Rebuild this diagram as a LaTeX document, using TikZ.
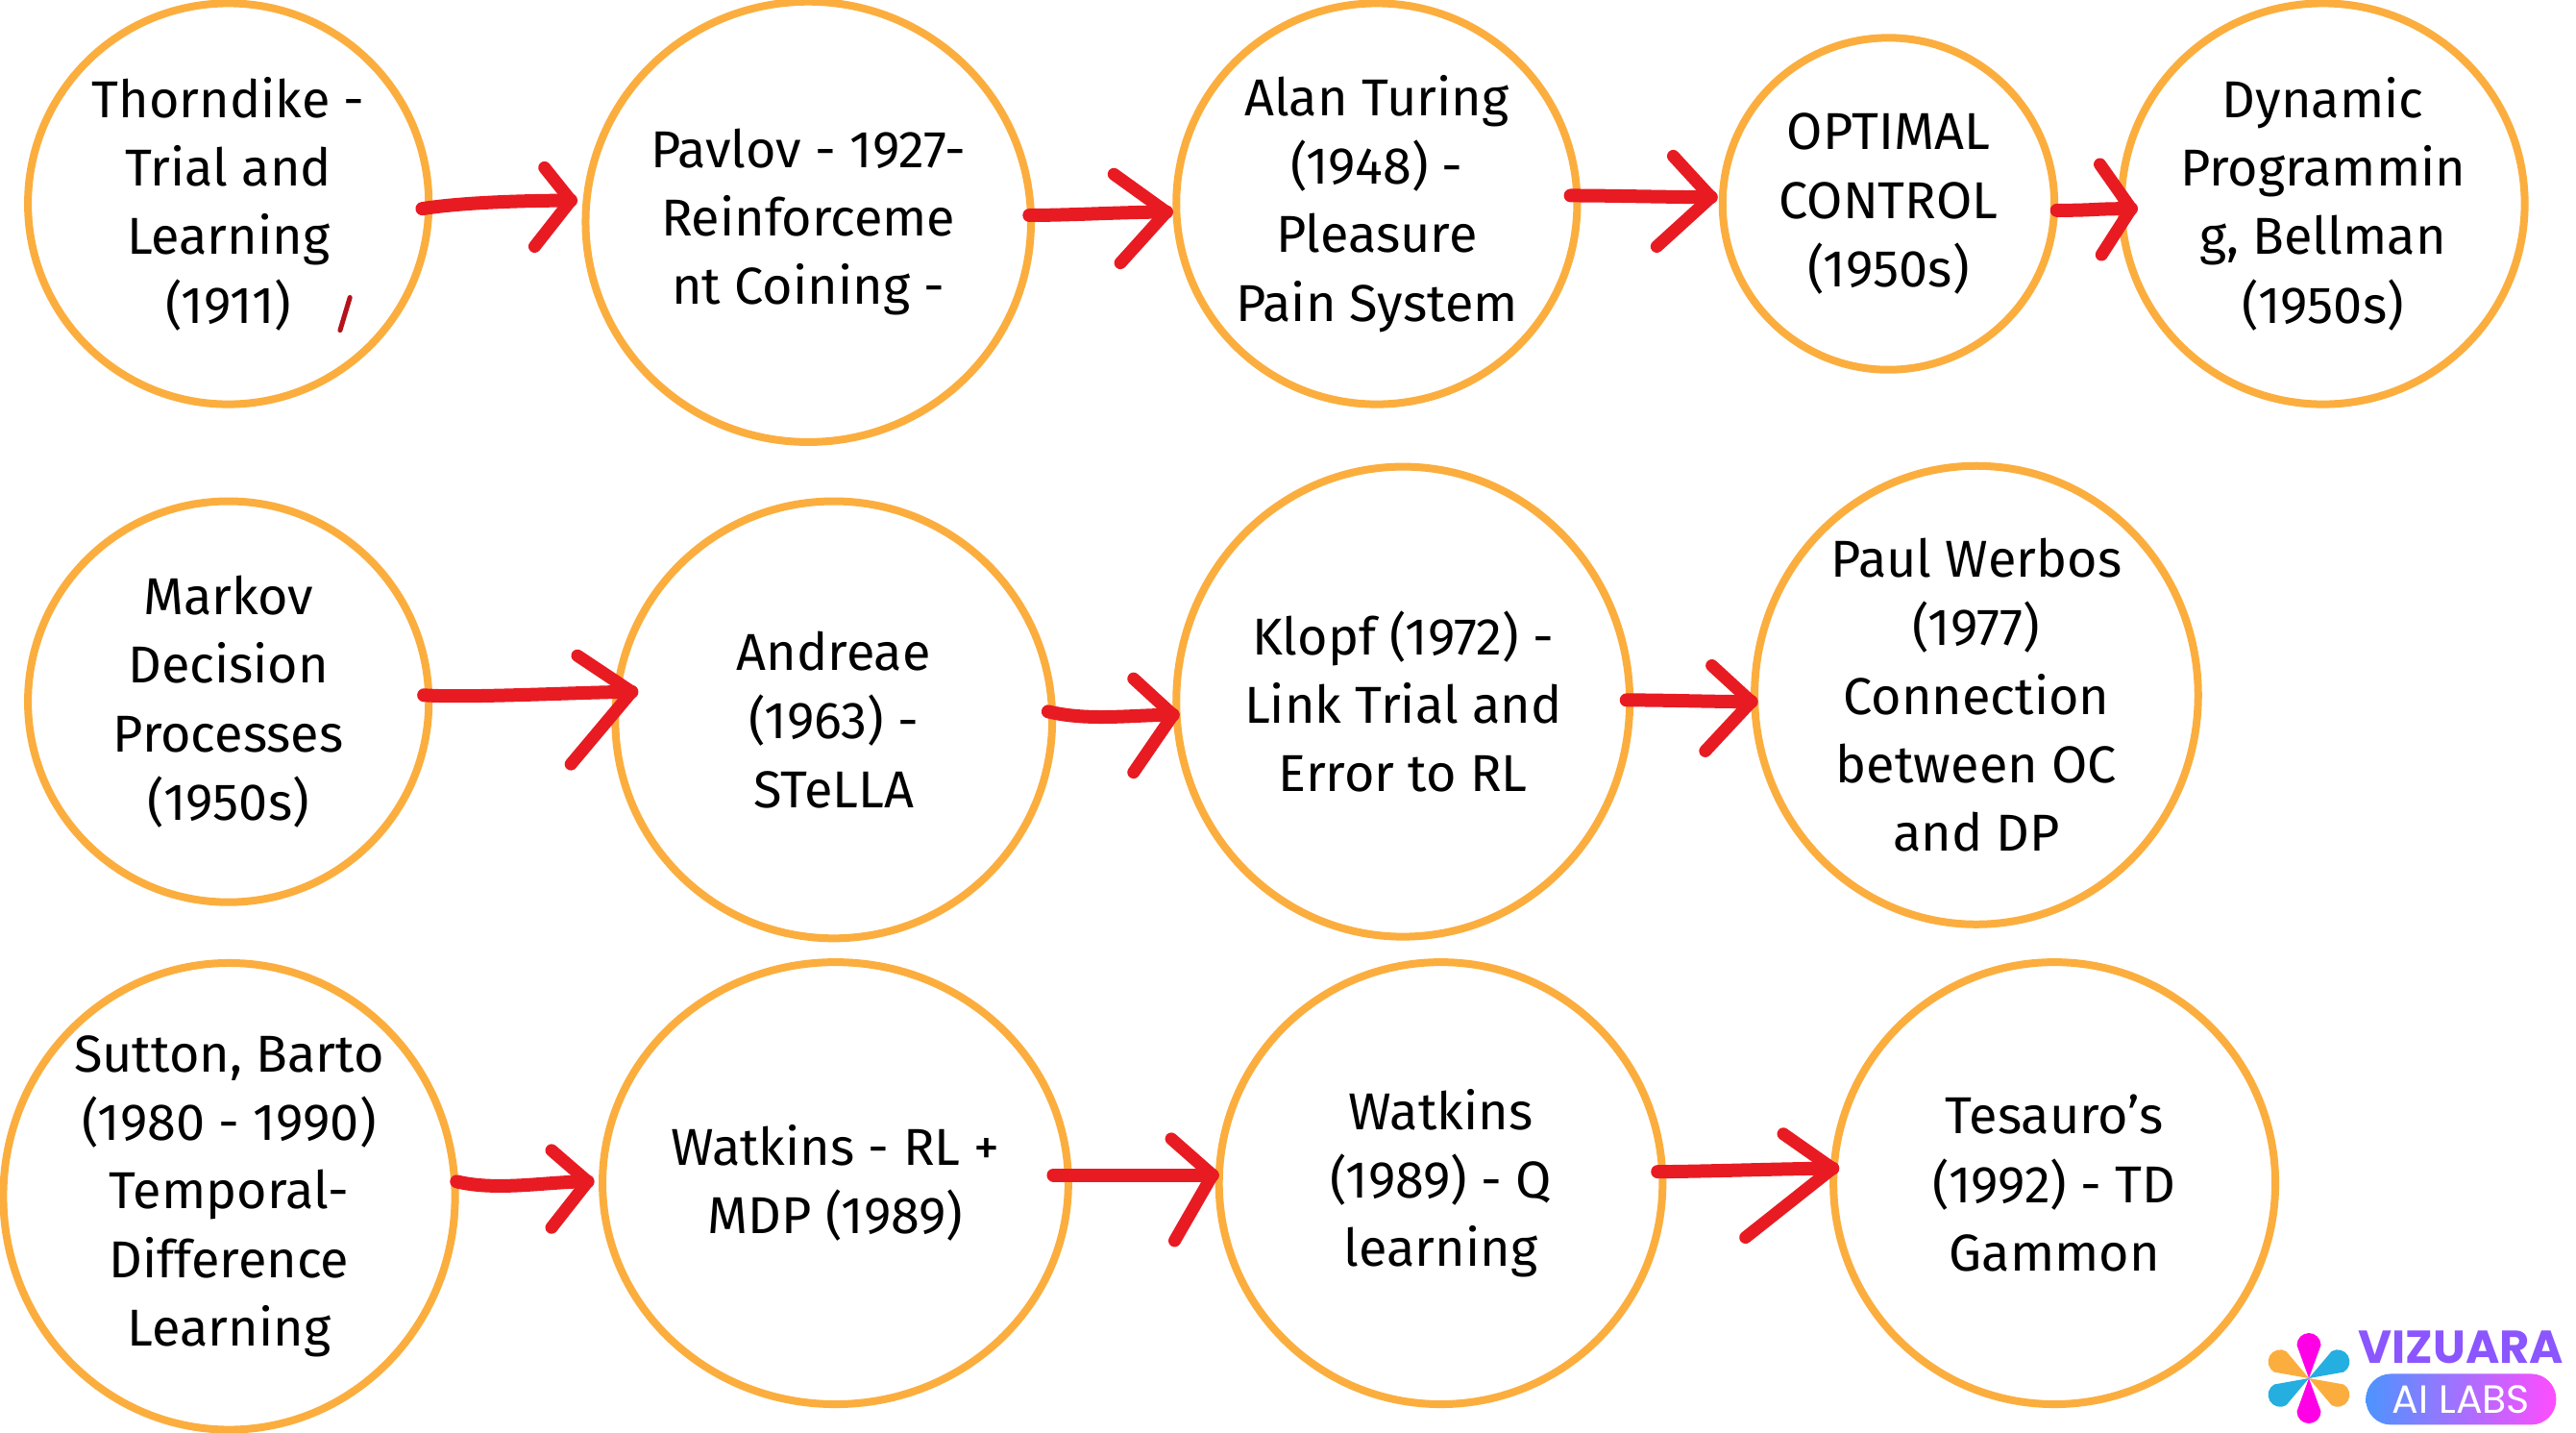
\documentclass[tikz,border=0pt]{standalone}
\usepackage{fontspec}
\setmainfont{Fira Sans}
\newfontfamily\logofont{Poppins}
\usetikzlibrary{shapes.geometric,calc}
\definecolor{ringc}{HTML}{FBAE3E}
\definecolor{redc}{HTML}{E81B23}
\definecolor{slashc}{HTML}{B5121B}
\definecolor{purp}{HTML}{8B55FF}
\definecolor{petalm}{HTML}{FF00E6}
\definecolor{petalo}{HTML}{FBAE3E}
\definecolor{petalb}{HTML}{25AEE0}
\tikzset{
  ring/.style n args={2}{shape=ellipse,draw=ringc,line width=8pt,inner sep=0pt,outer sep=0pt,
    minimum width=#1*3.4196pt,minimum height=#2*3.4196pt,align=center,text=black,
    font=\fontsize{54}{71.3}\selectfont},
  stroke/.style={draw=redc,line width=14pt,line cap=round,line join=round},
  headst/.style={draw=redc,line width=13pt,line cap=round,line join=round},
}
\newcommand{\arrowconn}[7]{%
  \coordinate (s#1) at ($(#1.east)+(#3)$);
  \coordinate (t#1) at ($(#2.west)+(#4)$);
  \draw[stroke] (s#1) .. controls +(25,#7) and +(-25,0) .. (t#1);
  \draw[headst] ($(t#1)+(#5)$) -- (t#1) -- ($(t#1)+(#6)$);
}
\newcommand{\petal}[2]{%
  \fill[#1,rotate=#2] (0pt,0pt) -- (34.5pt,12.5pt) arc[start angle=90,end angle=-90,radius=12.5pt] -- cycle;
}
\begin{document}
\begin{tikzpicture}[x=1.7098pt,y=-1.7098pt]
\useasboundingbox (0,0) rectangle (1568,872);
\fill[white] (0,0) rectangle (1568,872);
\node[ring={122}{122}] (n1) at (139,124) {Thorndike -\\Trial and\\Learning\\(1911)};
\node[ring={134}{134}] (n2) at (492,135) {Pavlov - 1927-\\Reinforceme\\nt Coining -};
\node[ring={122}{122}] (n3) at (838,124) {Alan Turing\\(1948) -\\Pleasure\\Pain System};
\node[ring={101}{101}] (n4) at (1149.5,124) {OPTIMAL\\CONTROL\\(1950s)};
\node[ring={122}{122}] (n5) at (1414,124) {Dynamic\\Programmin\\g, Bellman\\(1950s)};
\node[ring={122}{122}] (n6) at (139,427) {Markov\\Decision\\Processes\\(1950s)};
\node[ring={133}{133}] (n7) at (507.5,438) {Andreae\\(1963) -\\STeLLA};
\node[ring={138}{143}] (n8) at (854,427) {Klopf (1972) -\\Link Trial and\\Error to RL};
\node[ring={135}{139.5}] (n9) at (1203,423) {Paul Werbos\\(1977)\\Connection\\between OC\\and DP};
\node[ring={137.5}{142}] (n10) at (139.5,728) {Sutton, Barto\\(1980 - 1990)\\Temporal-\\Difference\\Learning};
\node[ring={134.5}{134.5}] (n11) at (508.5,720) {Watkins - RL +\\MDP (1989)};
\node[ring={135}{134.5}] (n12) at (877,720) {Watkins\\(1989) - Q\\learning};
\node[ring={134.5}{134.5}] (n13) at (1250.5,720) {Tesauro’s\\(1992) - TD\\Gammon};
\arrowconn{n1}{n2}{-4,3}{-9,-13}{-16,-20}{-22,28}{-4}
\arrowconn{n2}{n3}{-1,-4}{-6,5}{-32,-23}{-28,31}{0}
\arrowconn{n3}{n4}{-4,-5}{-7,-4}{-23,-25}{-33,30}{0}
\arrowconn{n4}{n5}{1.5,4}{6,3}{-19,-27}{-18,28}{0}
\arrowconn{n6}{n7}{-3,-4}{10,-17}{-33,-22}{-37,44}{2}
\arrowconn{n7}{n8}{-2.5,-5}{-2,8}{-24,-22}{-24,35}{6}
\arrowconn{n8}{n9}{-2,-1}{-2,4}{-24,-22}{-28,30}{0}
\arrowconn{n10}{n11}{1,-9}{-9,-1}{-22,-19}{-22,28}{6}
\arrowconn{n11}{n12}{-9,-5}{-4,-5}{-25,-22}{-23,40}{0}
\arrowconn{n12}{n13}{-3,-7}{-0.5,-9}{-30,-21}{-53,42}{0}
\coordinate (sl1) at ($(n1)+(74,57)$);
\coordinate (sl2) at ($(n1)+(68,77)$);
\draw[slashc,line width=5pt,line cap=round] (sl1) -- (sl2);
% logo
\coordinate (fc) at (1405.4,838.7);
\begin{scope}[shift={(fc)},x=1pt,y=1pt]
\petal{petalo}{150}
\petal{petalo}{-30}
\petal{petalb}{30}
\petal{petalb}{210}
\petal{petalm}{90}
\petal{petalm}{-90}
\end{scope}
\node[text=purp,inner sep=0pt,font=\logofont\bfseries\fontsize{48}{48}\selectfont,anchor=center] (vz) at (1498,820) {VIZUARA};
\node[left color=blue!60!cyan!70!white,right color=magenta!70!white,rounded corners=26pt,minimum width=198pt,minimum height=53pt,inner sep=0pt,text=white,font=\logofont\fontsize{41}{41}\selectfont] (ai) at (1498,851.5) {AI LABS};
\end{tikzpicture}
\end{document}
